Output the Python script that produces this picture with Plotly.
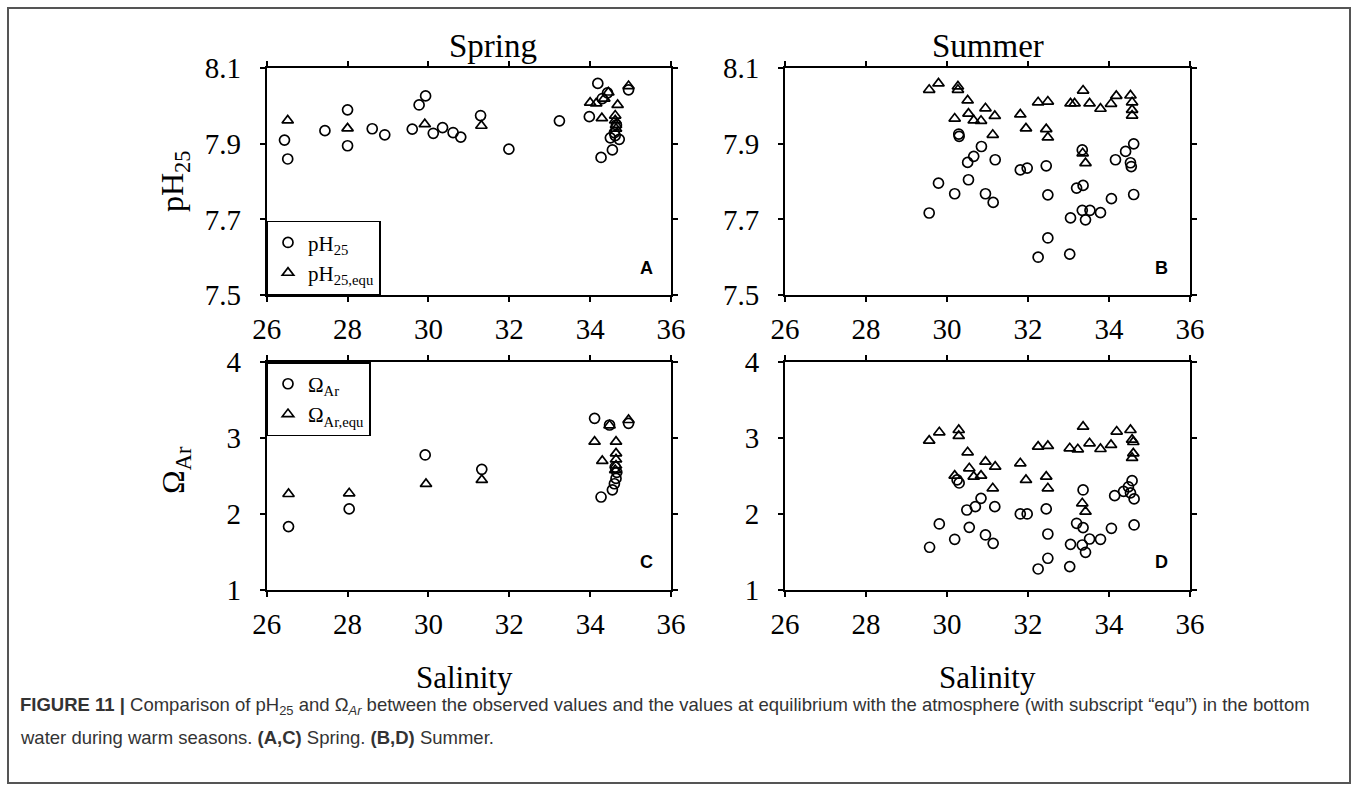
import plotly.graph_objects as go

# ---- Spring (panels A, C) ----
spring_ph_sal = [26.44, 26.52, 27.44, 28.0, 28.0, 28.61, 28.92, 29.6, 29.77, 29.93,
                 30.12, 30.35, 30.61, 30.8, 31.29, 31.99, 33.24, 34.19, 33.98, 34.27,
                 34.55, 34.5, 34.72, 34.62, 34.95, 34.43, 34.3, 34.6, 34.65]
spring_ph = [7.91, 7.86, 7.935, 7.99, 7.895, 7.94, 7.924, 7.939, 8.003, 8.027,
             7.928, 7.943, 7.93, 7.918, 7.975, 7.886, 7.961, 8.06, 7.972, 7.864,
             7.884, 7.916, 7.912, 7.922, 8.043, 8.035, 8.02, 7.93, 7.95]

spring_ph_equ_sal = [26.52, 28.0, 29.91, 31.31, 34.0, 34.15, 34.29, 34.45, 34.68,
                     34.62, 34.62, 34.64, 34.64, 34.95, 34.35]
spring_ph_equ = [7.962, 7.941, 7.952, 7.948, 8.009, 8.007, 7.968, 8.036, 8.003,
                 7.975, 7.962, 7.95, 7.94, 8.053, 8.02]

spring_om_sal = [26.54, 28.04, 29.92, 31.32, 34.11, 34.48, 34.95, 34.27, 34.55,
                 34.6, 34.64, 34.66, 34.62]
spring_om = [1.835, 2.068, 2.779, 2.59, 3.262, 3.174, 3.196, 2.225, 2.32,
             2.4, 2.47, 2.55, 2.62]

spring_om_equ_sal = [26.54, 28.04, 29.94, 31.32, 34.11, 34.3, 34.48, 34.64, 34.64,
                     34.64, 34.64, 34.95, 34.62]
spring_om_equ = [2.265, 2.274, 2.397, 2.45, 2.954, 2.7, 3.17, 2.954, 2.8,
                 2.72, 2.64, 3.24, 2.58]

# ---- Summer (panels B, D) ----
summer_ph_sal = [29.56, 29.79, 30.19, 30.29, 30.3, 30.53, 30.51, 30.66, 30.85, 30.95,
                 31.14, 31.19, 31.81, 31.98, 32.45, 32.49, 32.49, 32.25, 33.03, 33.05,
                 33.2, 33.36, 33.34, 33.42, 33.53, 33.79, 34.06, 34.16, 34.41, 34.61,
                 34.53, 34.55, 34.61, 33.34]
summer_ph = [7.717, 7.796, 7.768, 7.926, 7.92, 7.805, 7.851, 7.867, 7.893, 7.768,
             7.745, 7.858, 7.831, 7.836, 7.842, 7.765, 7.651, 7.6, 7.608, 7.704,
             7.783, 7.79, 7.724, 7.699, 7.724, 7.718, 7.755, 7.858, 7.88, 7.9,
             7.85, 7.84, 7.766, 7.884]

summer_ph_equ_sal = [29.56, 29.79, 30.27, 30.27, 30.51, 30.53, 30.19, 30.66, 30.84,
                     30.95, 31.18, 31.13, 31.81, 31.95, 32.25, 32.49, 32.45, 32.49,
                     33.05, 33.15, 33.36, 33.52, 33.79, 34.05, 34.18, 34.53, 34.57,
                     34.57, 34.57, 33.35, 33.42]
summer_ph_equ = [8.043, 8.06, 8.052, 8.043, 8.015, 7.98, 7.967, 7.962, 7.961,
                 7.994, 7.974, 7.924, 7.978, 7.941, 8.01, 8.012, 7.939, 7.917,
                 8.007, 8.007, 8.041, 8.007, 7.993, 8.006, 8.027, 8.028, 8.01,
                 7.99, 7.975, 7.875, 7.849]

summer_om_sal = [29.57, 29.81, 30.19, 30.25, 30.3, 30.49, 30.55, 30.7, 30.84, 30.95,
                 31.14, 31.18, 31.81, 31.98, 32.45, 32.49, 32.49, 32.25, 33.03, 33.05,
                 33.2, 33.34, 33.36, 33.42, 33.52, 33.79, 34.06, 34.14, 34.36, 34.48,
                 34.57, 34.62, 34.53, 34.62, 33.36]
summer_om = [1.563, 1.87, 1.668, 2.45, 2.41, 2.054, 1.826, 2.098, 2.208, 1.725,
             1.615, 2.098, 2.002, 2.002, 2.068, 1.738, 1.418, 1.277, 1.308, 1.602,
             1.879, 1.593, 1.822, 1.497, 1.672, 1.668, 1.813, 2.243, 2.3, 2.36,
             2.44, 2.2, 2.28, 1.857, 2.318]

summer_om_equ_sal = [29.56, 29.81, 30.29, 30.29, 30.51, 30.55, 30.19, 30.66, 30.84,
                     30.95, 31.19, 31.13, 31.81, 31.95, 32.25, 32.49, 32.45, 32.49,
                     33.03, 33.23, 33.36, 33.52, 33.79, 34.05, 34.19, 34.53, 34.57,
                     34.6, 34.6, 34.57, 33.34, 33.42]
summer_om_equ = [2.968, 3.078, 3.108, 3.03, 2.814, 2.603, 2.507, 2.494, 2.507,
                 2.691, 2.625, 2.34, 2.669, 2.45, 2.889, 2.898, 2.494, 2.34,
                 2.867, 2.854, 3.152, 2.933, 2.858, 2.911, 3.087, 3.108, 2.98,
                 2.95, 2.8, 2.74, 2.142, 2.032]

sal_ticks = [26, 28, 30, 32, 34, 36]
ph_ticks = [7.5, 7.7, 7.9, 8.1]
om_ticks = [1, 2, 3, 4]

W, H = 1358, 791
SERIF = "Liberation Serif, Times New Roman, serif"
SANS = "Liberation Sans, Arial, sans-serif"


def px_x(v):
    return v / W


def px_y(v):
    return 1 - v / H


circle = dict(symbol="circle-open", size=10, color="black", line=dict(width=1.7, color="black"))
triangle = dict(symbol="triangle-up-open", size=10, color="black", line=dict(width=1.7, color="black"))

fig = go.Figure()

panels = [
    ("x", "y", spring_ph_sal, spring_ph, spring_ph_equ_sal, spring_ph_equ,
     "pH<sub>25</sub>", "pH<sub>25,equ</sub>", "legend", True),
    ("x2", "y2", summer_ph_sal, summer_ph, summer_ph_equ_sal, summer_ph_equ,
     "pH<sub>25</sub>", "pH<sub>25,equ</sub>", "legend", False),
    ("x3", "y3", spring_om_sal, spring_om, spring_om_equ_sal, spring_om_equ,
     "Ω<sub>Ar</sub>", "Ω<sub>Ar,equ</sub>", "legend2", True),
    ("x4", "y4", summer_om_sal, summer_om, summer_om_equ_sal, summer_om_equ,
     "Ω<sub>Ar</sub>", "Ω<sub>Ar,equ</sub>", "legend2", False),
]

for xa, ya, cs, cv, ts, tv, cname, tname, leg, show in panels:
    fig.add_trace(go.Scatter(x=cs, y=cv, mode="markers", marker=circle, name=cname,
                             xaxis=xa, yaxis=ya, legend=leg, showlegend=show))
    fig.add_trace(go.Scatter(x=ts, y=tv, mode="markers", marker=triangle, name=tname,
                             xaxis=xa, yaxis=ya, legend=leg, showlegend=show))

# panel boxes in pixel coordinates
left_dom = [px_x(266.7), px_x(671)]
right_dom = [px_x(785), px_x(1190)]
top_dom = [px_y(295), px_y(68.3)]
bot_dom = [px_y(590), px_y(362.3)]

axis_common = dict(showline=True, linecolor="black", linewidth=1.8, mirror="ticks",
                   ticks="outside", ticklen=5, tickwidth=1.5, tickcolor="black",
                   showgrid=False, zeroline=False, automargin=False,
                   tickfont=dict(family=SERIF, size=29, color="black"))

xdef = dict(range=[26, 36], tickvals=sal_ticks, ticktext=[str(v) for v in sal_ticks],
            ticklabelstandoff=2, **axis_common)
ydef = dict(ticklabelstandoff=13, **axis_common)
fig.update_layout(
    xaxis=dict(domain=left_dom, anchor="y", **xdef),
    xaxis2=dict(domain=right_dom, anchor="y2", **xdef),
    xaxis3=dict(domain=left_dom, anchor="y3", **xdef),
    xaxis4=dict(domain=right_dom, anchor="y4", **xdef),
    yaxis=dict(domain=top_dom, anchor="x", range=[7.5, 8.1], tickvals=ph_ticks,
               ticktext=[f"{v:.1f}" for v in ph_ticks], **ydef),
    yaxis2=dict(domain=top_dom, anchor="x2", range=[7.5, 8.1], tickvals=ph_ticks,
                ticktext=[f"{v:.1f}" for v in ph_ticks], **ydef),
    yaxis3=dict(domain=bot_dom, anchor="x3", range=[1, 4], tickvals=om_ticks,
                ticktext=[str(v) for v in om_ticks], **ydef),
    yaxis4=dict(domain=bot_dom, anchor="x4", range=[1, 4], tickvals=om_ticks,
                ticktext=[str(v) for v in om_ticks], **ydef),
)

legend_style = dict(bgcolor="white", bordercolor="black", borderwidth=1.3,
                    font=dict(family=SERIF, size=21, color="black"),
                    xanchor="left", itemwidth=30, tracegroupgap=0)
fig.update_layout(
    legend=dict(x=left_dom[0], y=top_dom[0], yanchor="bottom", **legend_style),
    legend2=dict(x=left_dom[0], y=bot_dom[1], yanchor="top", **legend_style),
)


def label(text, xc, yc, size, family=SERIF, angle=0, color="black"):
    return dict(text=text, x=px_x(xc), y=px_y(yc), xref="paper", yref="paper",
                xanchor="center", yanchor="middle", textangle=angle, showarrow=False,
                font=dict(family=family, size=size, color=color))


annotations = [
    label("Spring", 493, 46, 33),
    label("Summer", 988, 46, 33),
    label("Salinity", 464, 677, 31),
    label("Salinity", 987, 677, 31),
    label("pH<sub>25</sub>", 175, 181, 32, angle=-90),
    label("Ω<sub>Ar</sub>", 175, 470, 32, angle=-90),
]
for letter, xc, yc in [("A", 646, 268), ("B", 1161, 268), ("C", 646, 562), ("D", 1161, 562)]:
    annotations.append(label(f"<b>{letter}</b>", xc, yc, 18, family=SANS))

# caption
cap_font = dict(family=SANS, size=18.5, color="#333333")
annotations.append(dict(
    text="<b>FIGURE 11 |</b> Comparison of pH<sub>25</sub> and Ω<sub><i>Ar</i></sub> between the observed values "
         "and the values at equilibrium with the atmosphere (with subscript “equ”) in the bottom",
    x=px_x(18), y=px_y(706), xref="paper", yref="paper", xanchor="left", yanchor="middle",
    showarrow=False, font=cap_font))
annotations.append(dict(
    text="water during warm seasons. <b>(A,C)</b> Spring. <b>(B,D)</b> Summer.",
    x=px_x(18), y=px_y(737), xref="paper", yref="paper", xanchor="left", yanchor="middle",
    showarrow=False, font=cap_font))

fig.update_layout(
    annotations=annotations,
    shapes=[dict(type="rect", xref="paper", yref="paper", x0=px_x(8), x1=px_x(1350),
                 y0=px_y(783), y1=px_y(8), line=dict(color="#555555", width=2))],
    width=W, height=H, autosize=False,
    margin=dict(l=0, r=0, t=0, b=0, pad=0, autoexpand=False),
    paper_bgcolor="white", plot_bgcolor="white",
)

fig.write_html("out.html")
